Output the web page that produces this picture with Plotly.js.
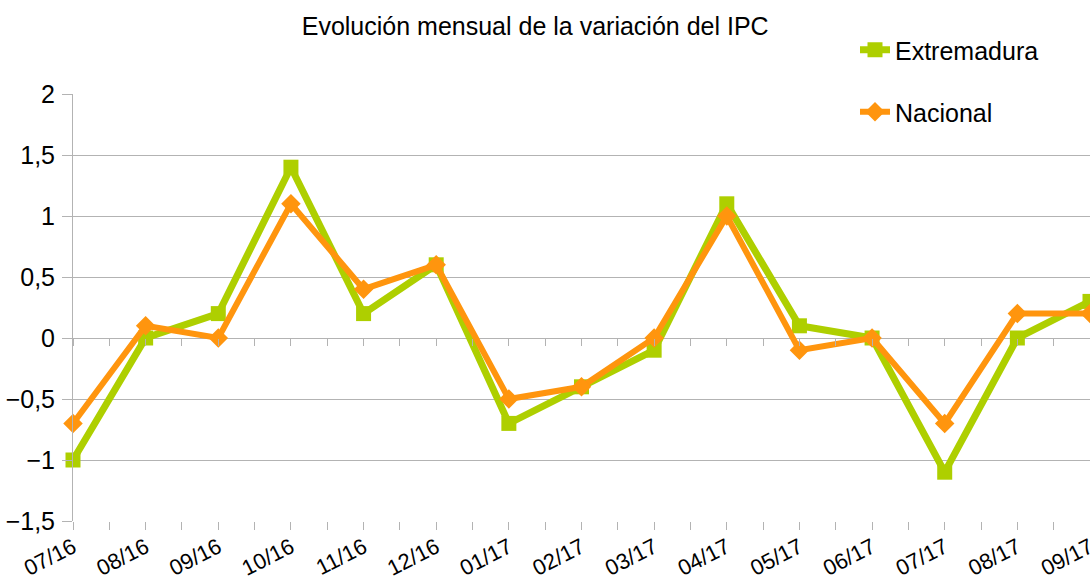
<!DOCTYPE html>
<html>
<head>
<meta charset="utf-8">
<script src="https://cdn.plot.ly/plotly-3.0.1.min.js"></script>
<style>html,body{margin:0;padding:0;background:#fff;}#chart{width:1090px;height:583px;}</style>
</head>
<body>
<div id="chart"></div>
<script>
const months = ["07/16","08/16","09/16","10/16","11/16","12/16","01/17","02/17","03/17","04/17","05/17","06/17","07/17","08/17","09/17"];
const extremadura = [-1, 0, 0.2, 1.4, 0.2, 0.6, -0.7, -0.4, -0.1, 1.1, 0.1, 0, -1.1, 0, 0.3];
const nacional = [-0.7, 0.1, 0, 1.1, 0.4, 0.6, -0.5, -0.4, 0, 1.0, -0.1, 0, -0.7, 0.2, 0.2];
const yTicks = [-1.5, -1, -0.5, 0, 0.5, 1, 1.5, 2];

const idx = months.map((m, i) => i);
const tickVals = [], tickText = [];
months.forEach((m, i) => { tickVals.push(i); tickText.push(m); if (i < months.length - 1) { tickVals.push(i + 0.5); tickText.push(''); } });

const font = "Liberation Sans, Arial, sans-serif";
const green = "#aecf00";
const orange = "#ff950e";
const grid = "#b3b3b3";

const traces = [
  {x: idx, y: extremadura, name: "Extremadura", type: "scatter", mode: "lines+markers",
   line: {color: green, width: 7}, marker: {symbol: "square", size: 15, color: green},
   cliponaxis: false, legend: "legend"},
  {x: idx, y: nacional, name: "Nacional", type: "scatter", mode: "lines+markers",
   line: {color: orange, width: 6}, marker: {symbol: "diamond", size: 15, color: orange},
   cliponaxis: false, legend: "legend2"}
];

const L = 73, R = 0, T = 94, B = 62, W = 1090, H = 583;
const plotW = W - L - R, plotH = H - T - B;
const xr = [0, months.length - 1];
const yr = [-1.5, 2];
const zeroPos = (0 - yr[0]) / (yr[1] - yr[0]);
const lx = (855 - L) / plotW;

const layout = {
  width: W, height: H,
  margin: {l: L, r: R, t: T, b: B},
  paper_bgcolor: "#fff", plot_bgcolor: "#fff",
  font: {family: font, color: "#000"},
  title: {text: "Evolución mensual de la variación del IPC", font: {size: 25, family: font, color: "#000"},
          x: 0.491, xref: "container", xanchor: "center", y: 1 - 26/H, yref: "container", yanchor: "middle"},
  separators: ",.",
  showlegend: true,
  xaxis: {range: xr, tickmode: "array", tickvals: tickVals, ticktext: tickText, tickangle: -27,
          ticks: "outside", ticklen: 8, tickcolor: grid, tickwidth: 1, automargin: false,
          showgrid: false, zeroline: false, showline: false, ticklabelstandoff: -4,
          ticklabeloverflow: "allow",
          tickfont: {size: 22, family: font, color: "#000"}, fixedrange: true},
  xaxis2: {range: xr, overlaying: "x", anchor: "free", position: zeroPos, tickmode: "array",
           tickvals: tickVals, ticks: "outside", ticklen: 7, tickcolor: grid, showticklabels: false,
           showgrid: false, zeroline: false, showline: false},
  yaxis: {range: yr, tickmode: "array", tickvals: yTicks, ticks: "outside", ticklen: 10, tickcolor: grid,
          showgrid: true, gridcolor: grid, gridwidth: 1, zeroline: false, showline: true, linecolor: grid, linewidth: 1,
          tickfont: {size: 25, family: font, color: "#000"}, ticklabelstandoff: 2, automargin: false},
  legend: {x: lx, xanchor: "left", y: 1 + (T - 50) / plotH, yanchor: "middle",
           bgcolor: "rgba(0,0,0,0)", font: {size: 25, family: font, color: "#000"}},
  legend2: {x: lx, xanchor: "left", y: 1 - (112 - T) / plotH, yanchor: "middle",
           bgcolor: "rgba(0,0,0,0)", font: {size: 25, family: font, color: "#000"}}
};

traces.push({x: [idx[0]], y: [null], xaxis: "x2", showlegend: false, hoverinfo: "skip", mode: "lines"});

Plotly.newPlot("chart", traces, layout, {displayModeBar: false, staticPlot: true});
</script>
</body>
</html>
